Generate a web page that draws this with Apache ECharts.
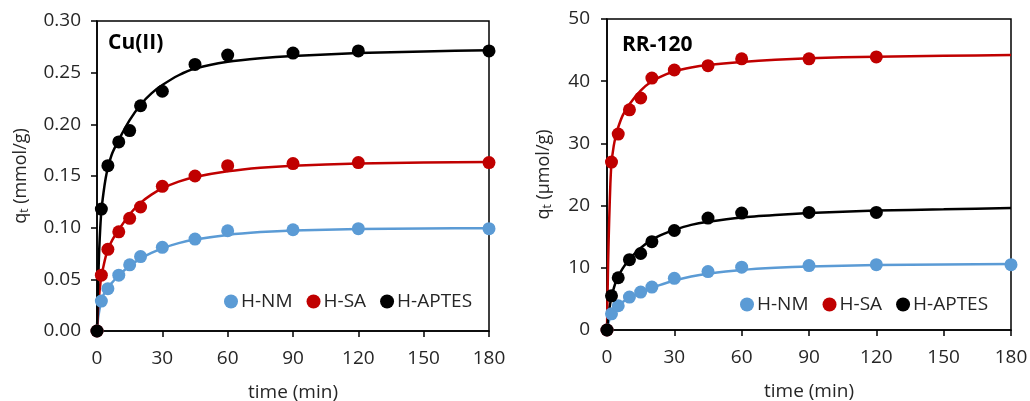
<!DOCTYPE html>
<html><head><meta charset="utf-8">
<script src="https://cdn.jsdelivr.net/npm/echarts@6/dist/echarts.min.js"></script>
<style>html,body{margin:0;padding:0;background:#fff}#c{width:1030px;height:401px}</style>
</head><body><div id="c"></div>
<script>
// ---- data ----
const times = [0, 2, 5, 10, 15, 20, 30, 45, 60, 90, 120, 180];
const timesShort = [0, 2, 5, 10, 15, 20, 30, 45, 60, 90, 120];
const cuNM = [0, 0.029, 0.041, 0.054, 0.064, 0.072, 0.081, 0.089, 0.097, 0.098, 0.099, 0.099];
const cuSA = [0, 0.054, 0.079, 0.096, 0.109, 0.120, 0.140, 0.150, 0.160, 0.162, 0.163, 0.163];
const cuAPTES = [0, 0.118, 0.160, 0.183, 0.194, 0.218, 0.232, 0.258, 0.267, 0.269, 0.271, 0.271];
const rrNM = [0, 2.6, 3.9, 5.3, 6.1, 6.9, 8.3, 9.4, 10.1, 10.35, 10.5, 10.5];
const rrSA = [0, 27.0, 31.5, 35.4, 37.3, 40.5, 41.8, 42.5, 43.6, 43.6, 43.9];
const rrAPTES = [0, 5.5, 8.4, 11.3, 12.3, 14.2, 16.0, 18.0, 18.8, 18.9, 18.9];
// fitted curves
const fitTimes = [0, 0.5, 1, 1.5, 2, 3, 4, 5, 7, 10, 15, 20, 25, 30, 37.5, 45, 60, 75, 90, 120, 150, 180];
const cuNMfit = [0, 0.012, 0.019, 0.025, 0.029, 0.035, 0.039, 0.042, 0.047, 0.054, 0.063, 0.070, 0.0755, 0.080, 0.085, 0.0885, 0.093, 0.0957, 0.0973, 0.0986, 0.0992, 0.0995];
const cuSAfit = [0, 0.022, 0.035, 0.045, 0.053, 0.063, 0.072, 0.079, 0.088, 0.098, 0.113, 0.124, 0.132, 0.138, 0.1445, 0.149, 0.1545, 0.158, 0.160, 0.162, 0.163, 0.1635];
const cuAPTESfit = [0, 0.045, 0.078, 0.100, 0.116, 0.134, 0.148, 0.158, 0.172, 0.185, 0.204, 0.219, 0.230, 0.238, 0.2475, 0.254, 0.2605, 0.264, 0.2662, 0.269, 0.2706, 0.2717];
const rrNMfit = [0, 0.9, 1.6, 2.1, 2.5, 3.1, 3.5, 3.9, 4.5, 5.2, 6.1, 6.8, 7.4, 7.95, 8.6, 9.05, 9.65, 10.0, 10.2, 10.45, 10.55, 10.62];
const rrSAfit = [0, 11, 18, 23.5, 26.8, 29.6, 31.3, 32.6, 34.5, 36.3, 38.5, 40.0, 40.9, 41.6, 42.2, 42.6, 43.1, 43.45, 43.7, 43.95, 44.1, 44.2];
const rrAPTESfit = [0, 1.8, 3.2, 4.4, 5.3, 6.7, 7.8, 8.6, 9.9, 11.4, 13.2, 14.5, 15.4, 16.1, 16.9, 17.4, 18.1, 18.5, 18.8, 19.2, 19.4, 19.6];
const seriesNames = ['H-NM', 'H-SA', 'H-APTES'];
const colors = ['#5B9BD5', '#C00000', '#000000'];

const FONT = 'Open Sans';
const txt = '#262626';
const zip = (a, b) => a.map((v, i) => [v, b[i]]);

function xAxisCfg(gi) {
  return {
    gridIndex: gi, type: 'value', min: 0, max: 180, interval: 30,
    name: 'time (min)', nameLocation: 'middle', nameGap: 52,
    nameTextStyle: { fontFamily: FONT, fontSize: 19, color: txt },
    axisLine: { lineStyle: { color: '#000', width: 1.5 } },
    axisTick: { show: true, inside: false, length: 6, lineStyle: { color: '#000', width: 1.5 } },
    axisLabel: { fontFamily: FONT, fontSize: 19, color: txt, margin: 18 },
    splitLine: { show: false }
  };
}
function yAxisCfg(gi, max, interval, unit, dec) {
  return {
    gridIndex: gi, type: 'value', min: 0, max: max, interval: interval,
    name: '{a|q}{b|t}{a| (' + unit + ')}', nameLocation: 'middle', nameGap: dec ? 64 : 51, nameRotate: 90,
    nameTextStyle: {
      fontFamily: FONT, color: txt,
      rich: { a: { fontFamily: FONT, fontSize: 18, color: txt, lineHeight: 24 },
              b: { fontFamily: FONT, fontSize: 12, color: txt, lineHeight: 24, padding: [8, 0, 0, 0] } }
    },
    axisLine: { show: true, lineStyle: { color: '#000', width: 1.5 } },
    axisTick: { show: true, inside: false, length: 6, lineStyle: { color: '#000', width: 1.5 } },
    axisLabel: { fontFamily: FONT, fontSize: 19, color: txt, margin: dec ? 16 : 17,
                 formatter: v => dec ? v.toFixed(2) : String(v) },
    splitLine: { show: false }
  };
}
function scatter(name, gi, xs, ys, ci) {
  return { name: name, type: 'scatter', xAxisIndex: gi, yAxisIndex: gi, data: zip(xs, ys),
           symbol: 'circle', symbolSize: 13, itemStyle: { color: colors[ci], opacity: 1 }, z: 3 };
}
function fit(gi, ys, ci) {
  return { name: seriesNames[ci] + ' fit', type: 'line', xAxisIndex: gi, yAxisIndex: gi, data: zip(fitTimes, ys),
           smooth: 0.2, showSymbol: false, symbol: 'none',
           lineStyle: { color: colors[ci], width: 2.5 }, z: 2, silent: true };
}
function legendCfg(left, top) {
  return { data: seriesNames, left: left, top: top, icon: 'circle', itemWidth: 14, itemHeight: 14,
           itemGap: 14, textStyle: { fontFamily: FONT, fontSize: 19, color: txt, padding: [0, 0, 0, -2] } };
}

const chart = echarts.init(document.getElementById('c'), null, { renderer: 'canvas' });
chart.setOption({
  animation: false,
  backgroundColor: '#fff',
  grid: [
    { left: 97, right: 541, top: 21, bottom: 70, show: true, borderColor: '#000', borderWidth: 1.5, containLabel: false, outerBoundsMode: 'none' },
    { left: 607, right: 19, top: 19, bottom: 71, show: true, borderColor: '#000', borderWidth: 1.5, containLabel: false, outerBoundsMode: 'none' }
  ],
  title: [
    { text: 'Cu(II)', left: 103, top: 28, textStyle: { fontFamily: FONT, fontWeight: 'bold', fontSize: 21, color: '#000' } },
    { text: 'RR-120', left: 617, top: 30, textStyle: { fontFamily: FONT, fontWeight: 'bold', fontSize: 21, color: '#000' } }
  ],
  legend: [legendCfg(219, 287), legendCfg(735, 290)],
  xAxis: [xAxisCfg(0), xAxisCfg(1)],
  yAxis: [yAxisCfg(0, 0.30, 0.05, 'mmol/g', true), yAxisCfg(1, 50, 10, 'μmol/g', false)],
  series: [
    fit(0, cuNMfit, 0), fit(0, cuSAfit, 1), fit(0, cuAPTESfit, 2),
    scatter('H-NM', 0, times, cuNM, 0), scatter('H-SA', 0, times, cuSA, 1), scatter('H-APTES', 0, times, cuAPTES, 2),
    fit(1, rrNMfit, 0), fit(1, rrSAfit, 1), fit(1, rrAPTESfit, 2),
    scatter('H-NM', 1, times, rrNM, 0), scatter('H-SA', 1, timesShort, rrSA, 1), scatter('H-APTES', 1, timesShort, rrAPTES, 2)
  ]
});
</script></body></html>
